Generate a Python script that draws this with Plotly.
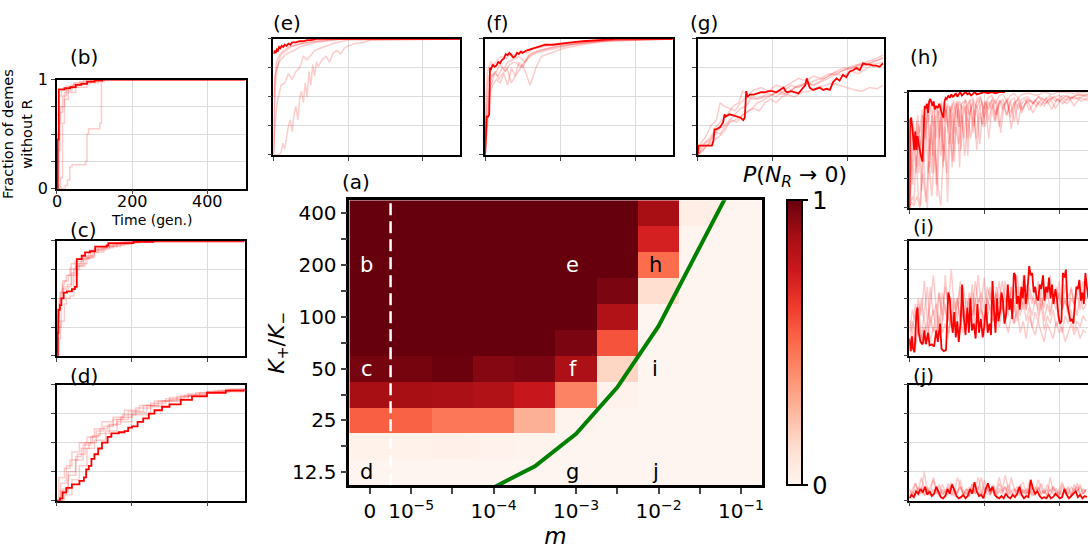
import plotly.graph_objects as go

W, H = 1090, 557

# ---------------- heatmap (a) data ----------------
M_LABELS = ["0", "10<sup>−5</sup>", "", "10<sup>−4</sup>", "", "10<sup>−3</sup>", "",
            "10<sup>−2</sup>", "", "10<sup>−1</sup>"]
K_LABELS = ["12.5", "", "25", "", "50", "", "100", "", "200", "", "400"]
# rows from K+/K- = 12.5 (bottom) to 400 (top); columns m = 0, 1e-5 ... 1e-1 (half decades)
P_EXT = [
    [0.00, 0.00, 0.00, 0.00, 0.00, 0.00, 0.00, 0.00, 0.00, 0.00],
    [0.02, 0.02, 0.03, 0.015, 0.01, 0.00, 0.00, 0.00, 0.00, 0.00],
    [0.53, 0.52, 0.46, 0.46, 0.28, 0.01, 0.00, 0.00, 0.00, 0.00],
    [0.87, 0.87, 0.86, 0.84, 0.76, 0.42, 0.015, 0.00, 0.00, 0.00],
    [0.97, 0.97, 0.99, 0.94, 0.96, 0.85, 0.16, 0.00, 0.00, 0.00],
    [1.00, 1.00, 1.00, 1.00, 1.00, 0.96, 0.56, 0.00, 0.00, 0.00],
    [1.00, 1.00, 1.00, 1.00, 1.00, 1.00, 0.84, 0.00, 0.00, 0.00],
    [1.00, 1.00, 1.00, 1.00, 1.00, 1.00, 0.96, 0.13, 0.00, 0.00],
    [1.00, 1.00, 1.00, 1.00, 1.00, 1.00, 1.00, 0.49, 0.00, 0.00],
    [1.00, 1.00, 1.00, 1.00, 1.00, 1.00, 1.00, 0.72, 0.00, 0.00],
    [1.00, 1.00, 1.00, 1.00, 1.00, 1.00, 1.00, 0.87, 0.04, 0.00],
]
# threshold curve (column index, row index)
LINE_X = [3, 4, 5, 6, 7, 8, 9]
LINE_Y = [-0.59, 0.23, 1.48, 3.28, 5.64, 8.7, 11.75]
CELL_LETTERS = [("b", 0, 8, "white"), ("c", 0, 4, "white"), ("d", 0, 0, "black"),
                ("e", 5, 8, "white"), ("f", 5, 4, "white"), ("g", 5, 0, "black"),
                ("h", 7, 8, "black"), ("i", 7, 4, "black"), ("j", 7, 0, "black")]

REDS = ["#fff5f0", "#fee0d2", "#fcbba1", "#fc9272", "#fb6a4a",
        "#ef3b2c", "#cb181d", "#a50f15", "#67000d"]

# ---------------- time-series data (time, fraction) ----------------
B_BOLD = [(0,0),(2,0.45),(5,0.91),(20,0.92),(35,0.93),(50,0.95),(65,0.96),(80,0.98),(100,0.99),(120,1.0),(500,1.0)]
B_FAINT = [
    [(0,0),(18,0),(22,0.03),(28,0.08),(34,0.2),(40,0.22),(76,0.25),(80,0.5),(84,0.55),(114,0.6),(118,0.98),(125,1.0),(500,1.0)],
    [(0,0),(5,0.6),(10,0.75),(20,0.82),(30,0.88),(50,0.93),(80,0.97),(110,1.0),(500,1.0)],
    [(0,0),(3,0.35),(8,0.7),(15,0.85),(25,0.9),(40,0.95),(60,0.98),(100,1.0),(500,1.0)],
    [(0,0),(10,0.1),(15,0.6),(20,0.88),(30,0.92),(45,0.96),(70,0.99),(120,1.0),(500,1.0)],
    [(0,0),(2,0.5),(5,0.85),(12,0.9),(25,0.94),(45,0.97),(90,1.0),(500,1.0)],
]
C_BOLD = [(0,0),(2,0.2),(4,0.4),(8,0.44),(12,0.5),(18,0.55),(27,0.56),(40,0.58),(48,0.6),(53,0.84),(66,0.87),(75,0.9),(88,0.91),(102,0.95),(133,0.96),(137,0.98),(204,0.99),(257,1.0),(500,1.0)]
C_FAINT = [
    [(0,0),(3,0.3),(6,0.45),(10,0.55),(15,0.62),(20,0.65),(30,0.7),(40,0.72),(50,0.78),(70,0.85),(90,0.92),(120,0.95),(160,0.98),(220,1.0),(500,1.0)],
    [(0,0),(5,0.15),(10,0.3),(20,0.45),(25,0.5),(35,0.52),(45,0.75),(60,0.8),(80,0.86),(100,0.92),(130,0.96),(180,0.99),(500,1.0)],
    [(0,0),(3,0.4),(8,0.55),(15,0.65),(25,0.7),(35,0.76),(50,0.8),(65,0.84),(85,0.9),(110,0.94),(150,0.97),(200,1.0),(500,1.0)],
    [(0,0),(4,0.25),(12,0.5),(18,0.6),(28,0.62),(40,0.7),(55,0.78),(75,0.85),(95,0.9),(125,0.95),(170,0.99),(500,1.0)],
    [(0,0),(2,0.35),(6,0.5),(14,0.58),(30,0.6),(38,0.8),(48,0.82),(70,0.87),(100,0.93),(140,0.97),(190,1.0),(500,1.0)],
]
D_BOLD = [(0,0),(8,0.02),(15,0.07),(25,0.11),(40,0.14),(60,0.17),(72,0.2),(78,0.27),(85,0.3),(92,0.36),(100,0.4),(110,0.45),(120,0.5),(135,0.55),(145,0.58),(165,0.59),(180,0.6),(190,0.63),(200,0.64),(215,0.68),(230,0.71),(245,0.75),(260,0.78),(280,0.81),(300,0.83),(330,0.87),(360,0.9),(400,0.93),(450,0.95),(500,0.96)]
D_FAINT = [
    [(0,0),(10,0.15),(25,0.3),(40,0.42),(60,0.5),(80,0.55),(100,0.62),(120,0.68),(150,0.72),(180,0.78),(220,0.82),(260,0.86),(300,0.89),(350,0.92),(400,0.94),(450,0.96),(500,0.97)],
    [(0,0),(15,0.1),(30,0.22),(50,0.35),(70,0.48),(90,0.55),(110,0.58),(140,0.66),(170,0.72),(200,0.76),(240,0.82),(280,0.86),(330,0.9),(380,0.93),(430,0.95),(500,0.97)],
    [(0,0),(5,0.2),(20,0.28),(35,0.35),(55,0.4),(75,0.5),(95,0.56),(115,0.62),(135,0.65),(160,0.7),(190,0.77),(230,0.82),(270,0.86),(320,0.9),(370,0.93),(420,0.95),(500,0.97)],
    [(0,0),(20,0.05),(40,0.18),(60,0.3),(80,0.45),(100,0.52),(130,0.6),(160,0.68),(200,0.74),(250,0.81),(300,0.87),(350,0.91),(400,0.94),(500,0.97)],
    [(0,0),(10,0.08),(30,0.25),(50,0.38),(65,0.45),(85,0.5),(105,0.6),(125,0.64),(150,0.7),(175,0.74),(210,0.8),(250,0.84),(290,0.88),(340,0.91),(400,0.94),(460,0.96),(500,0.97)],
]
E_BOLD = [(0,0.87),(3,0.9),(6,0.88),(9,0.91),(12,0.9),(15,0.93),(18,0.92),(22,0.94),(26,0.93),(30,0.95),(35,0.94),(40,0.96),(45,0.95),(50,0.97),(60,0.97),(70,0.98),(80,0.98),(90,0.99),(100,0.99),(115,1.0),(500,1.0)]
E_FAINT = [
    [(0,0),(15,0),(20,0.02),(25,0.1),(30,0.05),(35,0.15),(40,0.25),(45,0.3),(50,0.2),(55,0.35),(60,0.42),(65,0.3),(70,0.48),(75,0.55),(80,0.45),(85,0.62),(90,0.5),(95,0.72),(100,0.6),(105,0.78),(110,0.68),(115,0.8),(120,0.76),(130,0.82),(140,0.85),(150,0.8),(160,0.88),(170,0.9),(180,0.87),(190,0.92),(200,0.94),(220,0.96),(240,0.97),(260,0.99),(500,1.0)],
    [(0,0),(1,0.5),(3,0.65),(6,0.72),(10,0.75),(15,0.8),(20,0.82),(30,0.86),(40,0.88),(55,0.9),(70,0.93),(90,0.95),(110,0.97),(140,0.98),(180,1.0),(500,1.0)],
    [(0,0),(2,0.3),(4,0.55),(8,0.7),(12,0.78),(18,0.85),(25,0.88),(35,0.9),(45,0.93),(60,0.95),(80,0.96),(100,0.98),(130,0.99),(160,1.0),(500,1.0)],
    [(0,0.5),(3,0.6),(8,0.8),(14,0.85),(20,0.88),(28,0.9),(40,0.93),(55,0.94),(75,0.96),(95,0.97),(120,0.98),(150,0.99),(200,1.0),(500,1.0)],
    [(0,0),(5,0.3),(10,0.45),(20,0.6),(30,0.62),(40,0.7),(50,0.65),(60,0.72),(70,0.75),(80,0.85),(90,0.82),(100,0.86),(110,0.9),(125,0.92),(140,0.94),(160,0.96),(200,0.99),(500,1.0)],
]
F_BOLD = [(0,0),(2,0.3),(4,0.33),(8,0.33),(11,0.35),(13,0.75),(16,0.74),(20,0.78),(25,0.76),(30,0.77),(35,0.8),(40,0.79),(45,0.82),(50,0.83),(55,0.87),(60,0.86),(65,0.88),(70,0.86),(75,0.84),(80,0.85),(85,0.88),(90,0.87),(95,0.89),(100,0.88),(110,0.9),(120,0.91),(130,0.92),(145,0.94),(160,0.95),(180,0.95),(200,0.96),(230,0.97),(260,0.98),(300,0.99),(350,1.0),(500,1.0)]
F_FAINT = [
    [(0,0),(3,0.15),(6,0.3),(10,0.45),(15,0.55),(20,0.6),(30,0.65),(40,0.62),(50,0.7),(60,0.6),(70,0.75),(80,0.68),(90,0.8),(100,0.75),(115,0.85),(130,0.88),(150,0.9),(180,0.93),(220,0.95),(270,0.97),(330,0.99),(500,1.0)],
    [(0,0),(4,0.35),(8,0.5),(12,0.58),(18,0.62),(25,0.7),(35,0.68),(45,0.75),(55,0.72),(65,0.78),(80,0.8),(95,0.76),(110,0.82),(125,0.86),(140,0.88),(160,0.9),(190,0.92),(230,0.95),(280,0.97),(350,0.99),(500,1.0)],
    [(0,0),(5,0.2),(10,0.45),(15,0.65),(22,0.7),(30,0.72),(40,0.78),(50,0.74),(60,0.8),(75,0.82),(90,0.85),(105,0.8),(120,0.87),(140,0.9),(170,0.92),(200,0.94),(250,0.96),(300,0.98),(500,1.0)],
    [(0,0),(3,0.4),(7,0.62),(12,0.7),(20,0.68),(28,0.72),(36,0.65),(46,0.7),(58,0.75),(70,0.62),(85,0.7),(100,0.78),(120,0.6),(135,0.75),(150,0.85),(175,0.88),(210,0.92),(260,0.95),(320,0.98),(500,1.0)],
    [(0,0),(2,0.5),(6,0.7),(10,0.76),(16,0.8),(24,0.78),(34,0.82),(44,0.85),(56,0.83),(68,0.87),(82,0.86),(96,0.9),(112,0.88),(130,0.92),(150,0.93),(180,0.95),(220,0.96),(270,0.98),(330,0.99),(500,1.0)],
]
G_BOLD = [(0,0),(2,0.08),(5,0.08),(20,0.08),(38,0.08),(42,0.12),(45,0.22),(50,0.22),(60,0.24),(68,0.28),(72,0.35),(75,0.33),(85,0.35),(95,0.34),(105,0.33),(115,0.32),(122,0.3),(126,0.32),(130,0.55),(133,0.5),(140,0.52),(150,0.52),(160,0.53),(170,0.54),(180,0.54),(190,0.55),(200,0.55),(210,0.54),(220,0.56),(230,0.58),(235,0.55),(240,0.54),(250,0.55),(260,0.54),(270,0.53),(280,0.57),(288,0.6),(292,0.66),(300,0.58),(309,0.56),(320,0.57),(327,0.58),(336,0.56),(345,0.57),(354,0.56),(363,0.63),(372,0.66),(380,0.64),(389,0.69),(398,0.67),(407,0.72),(416,0.73),(425,0.75),(434,0.73),(443,0.79),(452,0.78),(460,0.78),(469,0.77),(478,0.77),(487,0.76),(496,0.79)]
G_FAINT = [
    [(0,0),(10,0.05),(20,0.1),(30,0.12),(40,0.15),(55,0.22),(70,0.25),(85,0.3),(100,0.35),(115,0.4),(130,0.42),(145,0.5),(160,0.48),(180,0.5),(200,0.52),(220,0.55),(240,0.52),(260,0.58),(280,0.6),(300,0.62),(320,0.65),(340,0.66),(360,0.7),(380,0.72),(400,0.74),(420,0.76),(440,0.78),(460,0.8),(480,0.82),(496,0.83)],
    [(0,0),(15,0.05),(30,0.1),(45,0.2),(60,0.18),(75,0.25),(90,0.3),(105,0.28),(120,0.35),(135,0.38),(150,0.4),(165,0.38),(180,0.45),(195,0.48),(210,0.45),(225,0.5),(240,0.52),(260,0.5),(280,0.54),(300,0.55),(320,0.58),(340,0.6),(360,0.62),(380,0.6),(400,0.58),(420,0.56),(440,0.55),(460,0.58),(480,0.57),(496,0.6)],
    [(0,0),(8,0.1),(20,0.15),(35,0.25),(50,0.3),(60,0.45),(70,0.42),(85,0.4),(100,0.38),(115,0.45),(130,0.5),(150,0.48),(170,0.5),(190,0.53),(210,0.5),(230,0.55),(250,0.6),(270,0.58),(290,0.62),(310,0.6),(330,0.64),(350,0.68),(370,0.72),(390,0.75),(410,0.74),(430,0.78),(450,0.8),(470,0.82),(496,0.86)],
    [(0,0),(12,0.03),(25,0.08),(40,0.12),(55,0.15),(70,0.2),(85,0.28),(100,0.3),(115,0.33),(130,0.36),(145,0.4),(160,0.45),(175,0.47),(190,0.5),(210,0.54),(230,0.52),(250,0.56),(270,0.6),(290,0.62),(310,0.6),(330,0.63),(350,0.66),(370,0.7),(390,0.68),(410,0.72),(430,0.7),(450,0.74),(470,0.78),(496,0.8)],
    [(0,0.02),(10,0.08),(25,0.12),(40,0.18),(50,0.25),(65,0.3),(80,0.35),(95,0.42),(110,0.45),(120,0.55),(135,0.52),(150,0.56),(170,0.58),(190,0.55),(210,0.6),(230,0.58),(250,0.62),(270,0.66),(290,0.64),(310,0.68),(330,0.66),(350,0.7),(370,0.69),(390,0.73),(410,0.76),(430,0.78),(450,0.77),(470,0.8),(496,0.84)],
]
H_BOLD = [(0,0),(2,0.76),(5,0.78),(8,0.7),(10,0.62),(13,0.5),(16,0.66),(19,0.5),(22,0.62),(25,0.55),(28,0.48),(31,0.45),(35,0.4),(38,0.65),(41,0.88),(44,0.86),(47,0.9),(50,0.82),(53,0.92),(56,0.94),(59,0.9),(62,0.88),(65,0.92),(68,0.85),(72,0.88),(76,0.86),(80,0.9),(84,0.84),(88,0.8),(91,0.78),(94,0.92),(97,0.95),(100,0.94),(104,0.97),(108,0.95),(112,0.98),(116,0.96),(120,0.97),(124,0.99),(128,0.96),(132,0.98),(136,1.0),(140,0.97),(145,0.99),(150,1.0),(155,0.98),(160,0.99),(165,0.97),(170,0.99),(175,1.0),(180,0.98),(190,0.99),(200,1.0),(210,0.99),(220,1.0),(230,0.99),(240,1.0),(255,1.0)]
H_FAINT = [
    [(0,0),(5,0.3),(10,0.7),(15,0.5),(20,0.75),(25,0.3),(30,0.6),(35,0.8),(40,0.4),(45,0.7),(50,0.85),(55,0.5),(60,0.8),(65,0.3),(70,0.7),(75,0.85),(80,0.6),(85,0.9),(90,0.5),(95,0.8),(100,0.88),(105,0.55),(110,0.85),(115,0.9),(120,0.65),(125,0.88),(130,0.92),(135,0.7),(140,0.9),(150,0.93),(155,0.75),(160,0.92),(170,0.95),(175,0.8),(180,0.94),(190,0.96),(200,0.85),(210,0.95),(220,0.97),(230,0.9),(240,0.97),(250,0.98),(260,0.92),(270,0.97),(280,0.99),(290,0.95),(300,0.98),(320,0.99),(340,0.97),(360,1),(380,0.98),(400,1),(440,0.99),(477,1)],
    [(0,0),(8,0.1),(12,0.05),(18,0.45),(24,0.1),(30,0.02),(36,0.55),(42,0.2),(48,0.0),(54,0.6),(60,0.3),(66,0.75),(72,0.2),(78,0.65),(84,0.8),(90,0.35),(96,0.7),(102,0.05),(108,0.6),(114,0.82),(120,0.4),(126,0.75),(132,0.85),(138,0.5),(144,0.8),(150,0.88),(156,0.45),(162,0.82),(170,0.9),(178,0.6),(186,0.85),(194,0.92),(202,0.7),(210,0.88),(220,0.93),(230,0.75),(240,0.9),(250,0.94),(260,0.8),(270,0.93),(280,0.95),(290,0.85),(300,0.94),(315,0.96),(330,0.9),(345,0.96),(360,0.93),(375,0.97),(390,0.92),(410,0.97),(430,0.95),(450,0.98),(477,0.96)],
    [(0,0),(4,0.5),(9,0.2),(14,0.6),(20,0.35),(26,0.7),(32,0.15),(38,0.55),(44,0.78),(50,0.3),(56,0.72),(62,0.45),(68,0.8),(74,0.1),(80,0.6),(86,0.78),(92,0.4),(98,0.85),(104,0.65),(110,0.88),(116,0.55),(122,0.82),(128,0.9),(134,0.35),(140,0.8),(148,0.88),(156,0.6),(164,0.9),(172,0.7),(180,0.88),(188,0.55),(196,0.85),(204,0.92),(212,0.75),(220,0.9),(230,0.8),(240,0.93),(250,0.85),(260,0.92),(270,0.78),(280,0.9),(290,0.94),(300,0.82),(310,0.9),(325,0.93),(340,0.88),(355,0.95),(370,0.9),(385,0.96),(400,0.92),(420,0.97),(440,0.94),(460,0.96),(477,0.98)],
    [(0,0),(6,0.25),(12,0.65),(18,0.3),(24,0.72),(30,0.45),(36,0.8),(42,0.6),(48,0.85),(54,0.35),(60,0.78),(66,0.88),(72,0.6),(78,0.85),(84,0.45),(90,0.8),(96,0.9),(102,0.7),(108,0.88),(114,0.35),(120,0.85),(126,0.92),(132,0.7),(138,0.9),(146,0.6),(154,0.88),(162,0.93),(170,0.65),(178,0.9),(186,0.94),(194,0.72),(202,0.92),(212,0.85),(222,0.95),(232,0.8),(242,0.93),(252,0.88),(262,0.95),(272,0.68),(282,0.9),(292,0.95),(302,0.85),(315,0.94),(330,0.9),(345,0.96),(360,0.9),(380,0.95),(400,0.97),(420,0.93),(445,0.97),(477,0.98)],
    [(0,0),(5,0.6),(10,0.75),(16,0.55),(22,0.8),(28,0.65),(34,0.85),(40,0.7),(46,0.88),(52,0.75),(58,0.9),(64,0.7),(70,0.88),(78,0.8),(86,0.92),(94,0.75),(102,0.9),(110,0.82),(118,0.93),(126,0.78),(134,0.92),(142,0.85),(150,0.94),(160,0.8),(170,0.93),(180,0.86),(190,0.95),(200,0.78),(210,0.92),(220,0.85),(230,0.94),(240,0.7),(250,0.88),(260,0.93),(270,0.82),(280,0.92),(290,0.72),(300,0.9),(310,0.94),(320,0.84),(335,0.93),(350,0.88),(365,0.95),(380,0.85),(395,0.94),(410,0.9),(425,0.96),(440,0.88),(455,0.95),(477,0.93)],
    [(0,0),(6,0.05),(12,0.02),(20,0.1),(28,0.0),(36,0.3),(44,0.05),(52,0.4),(60,0.1),(68,0.5),(76,0.2),(84,0.02),(92,0.55),(100,0.3),(108,0.65),(116,0.4),(124,0.7),(132,0.55),(140,0.8),(148,0.45),(156,0.78),(164,0.6),(172,0.85),(180,0.5),(188,0.82),(196,0.7),(204,0.88),(212,0.6),(220,0.85),(228,0.75),(236,0.9),(244,0.65),(252,0.88),(260,0.8),(270,0.92),(280,0.75),(290,0.9),(300,0.85),(315,0.93),(330,0.82),(345,0.92),(360,0.88),(375,0.95),(390,0.86),(405,0.94),(420,0.9),(440,0.96),(460,0.92),(477,0.95)],
]
I_BOLD = [(0,0.15),(4,0.04),(7,0.17),(10,0.06),(14,0.03),(19,0.38),(22,0.42),(25,0.2),(30,0.12),(36,0.1),(40,0.22),(44,0.1),(50,0.2),(54,0.09),(60,0.1),(66,0.08),(72,0.22),(76,0.12),(82,0.28),(86,0.06),(92,0.04),(98,0.05),(104,0.55),(108,0.5),(112,0.3),(116,0.2),(120,0.38),(124,0.16),(128,0.3),(132,0.12),(137,0.3),(141,0.62),(145,0.35),(150,0.18),(155,0.42),(159,0.2),(163,0.5),(167,0.22),(172,0.28),(177,0.15),(182,0.45),(186,0.2),(191,0.32),(196,0.16),(200,0.25),(205,0.45),(209,0.2),(214,0.28),(218,0.18),(222,0.65),(226,0.4),(230,0.2),(234,0.5),(238,0.3),(242,0.38),(246,0.55),(250,0.48),(254,0.28),(258,0.35),(263,0.62),(267,0.4),(271,0.5),(275,0.32),(279,0.72),(283,0.7),(287,0.45),(291,0.52),(295,0.4),(299,0.6),(303,0.5),(307,0.7),(311,0.45),(315,0.55),(320,0.78),(324,0.7),(328,0.72),(332,0.55),(336,0.6),(340,0.5),(344,0.48),(348,0.62),(352,0.58),(357,0.7),(361,0.48),(365,0.6),(369,0.55),(373,0.68),(377,0.5),(381,0.62),(385,0.45),(390,0.58),(394,0.5),(398,0.35),(402,0.28),(406,0.3),(410,0.72),(414,0.68),(418,0.75),(422,0.45),(426,0.35),(430,0.3),(434,0.32),(438,0.28),(442,0.45),(446,0.6),(450,0.58),(454,0.66),(458,0.48),(462,0.55),(466,0.45),(470,0.72),(474,0.6),(478,0.5)]
I_STEP = 8
I_FAINT = [
    [0.1,0.3,0.2,0.45,0.15,0.35,0.6,0.25,0.4,0.2,0.55,0.3,0.7,0.35,0.25,0.5,0.3,0.65,0.4,0.3,0.55,0.35,0.45,0.7,0.4,0.3,0.5,0.6,0.35,0.45,0.65,0.4,0.5,0.35,0.6,0.45,0.3,0.55,0.4,0.62,0.45,0.35,0.5,0.4,0.6,0.3,0.45,0.35,0.5,0.4,0.55,0.42,0.48,0.38,0.5,0.45,0.35,0.52,0.4,0.45],
    [0.05,0.2,0.1,0.3,0.15,0.25,0.1,0.35,0.2,0.4,0.15,0.3,0.45,0.2,0.35,0.25,0.5,0.3,0.2,0.4,0.3,0.55,0.25,0.35,0.45,0.3,0.5,0.4,0.3,0.55,0.35,0.45,0.3,0.5,0.4,0.28,0.45,0.35,0.5,0.3,0.42,0.25,0.38,0.3,0.45,0.22,0.35,0.28,0.4,0.25,0.32,0.2,0.35,0.28,0.4,0.22,0.3,0.25,0.35,0.3],
    [0.2,0.4,0.3,0.5,0.35,0.65,0.3,0.45,0.7,0.4,0.55,0.35,0.6,0.45,0.75,0.4,0.5,0.3,0.6,0.4,0.5,0.35,0.65,0.45,0.55,0.4,0.6,0.5,0.4,0.55,0.45,0.65,0.5,0.4,0.6,0.5,0.7,0.45,0.55,0.4,0.6,0.5,0.45,0.65,0.4,0.55,0.5,0.7,0.45,0.6,0.5,0.4,0.62,0.5,0.58,0.45,0.6,0.52,0.65,0.5],
    [0.1,0.15,0.05,0.25,0.1,0.2,0.3,0.12,0.25,0.18,0.35,0.2,0.28,0.15,0.4,0.25,0.3,0.2,0.45,0.3,0.35,0.25,0.5,0.3,0.4,0.22,0.35,0.45,0.3,0.38,0.25,0.42,0.3,0.2,0.35,0.28,0.4,0.2,0.3,0.15,0.35,0.25,0.18,0.3,0.2,0.12,0.28,0.22,0.15,0.3,0.2,0.25,0.12,0.2,0.28,0.18,0.25,0.15,0.22,0.2],
    [0.3,0.2,0.45,0.25,0.5,0.3,0.2,0.6,0.35,0.45,0.25,0.55,0.4,0.3,0.5,0.35,0.45,0.6,0.3,0.5,0.4,0.62,0.35,0.5,0.45,0.68,0.4,0.55,0.35,0.6,0.5,0.4,0.65,0.45,0.55,0.38,0.6,0.48,0.7,0.4,0.55,0.45,0.6,0.35,0.5,0.42,0.58,0.38,0.52,0.45,0.65,0.4,0.5,0.35,0.6,0.45,0.55,0.4,0.58,0.48],
]
J_STEP_BOLD = 6
J_BOLD = [0.02,0.05,0.03,0.08,0.06,0.1,0.07,0.12,0.05,0.08,0.04,0.06,0.12,0.08,0.03,0.02,0.04,0.1,0.06,0.14,0.08,0.04,0.02,0.03,0.05,0.02,0.04,0.1,0.06,0.16,0.08,0.04,0.05,0.02,0.1,0.15,0.08,0.12,0.05,0.03,0.02,0.04,0.02,0.06,0.03,0.02,0.05,0.03,0.06,0.12,0.05,0.02,0.04,0.03,0.18,0.1,0.06,0.08,0.04,0.02,0.03,0.02,0.05,0.02,0.03,0.06,0.04,0.02,0.03,0.1,0.05,0.02,0.04,0.06,0.08,0.03,0.05,0.02,0.04,0.03]
J_STEP = 8
J_FAINT = [
    [0.05,0.1,0.15,0.08,0.2,0.1,0.05,0.12,0.18,0.08,0.04,0.1,0.06,0.15,0.1,0.05,0.2,0.12,0.06,0.1,0.04,0.15,0.08,0.12,0.05,0.18,0.1,0.06,0.12,0.08,0.2,0.1,0.05,0.14,0.08,0.1,0.04,0.12,0.16,0.06,0.1,0.05,0.12,0.08,0.15,0.06,0.1,0.04,0.12,0.08,0.05,0.14,0.1,0.06,0.12,0.08,0.15,0.06,0.1,0.08],
    [0.02,0.08,0.04,0.12,0.06,0.25,0.08,0.04,0.1,0.06,0.14,0.05,0.08,0.12,0.04,0.1,0.06,0.18,0.08,0.05,0.12,0.06,0.1,0.2,0.08,0.04,0.1,0.06,0.14,0.05,0.1,0.08,0.22,0.1,0.05,0.08,0.12,0.04,0.1,0.06,0.16,0.08,0.04,0.12,0.06,0.1,0.05,0.2,0.08,0.1,0.04,0.12,0.06,0.1,0.05,0.14,0.08,0.12,0.06,0.1],
    [0.1,0.05,0.15,0.08,0.12,0.04,0.1,0.06,0.2,0.1,0.06,0.14,0.08,0.05,0.16,0.1,0.06,0.12,0.05,0.1,0.08,0.14,0.06,0.1,0.2,0.08,0.12,0.05,0.1,0.06,0.15,0.08,0.12,0.06,0.2,0.1,0.08,0.14,0.06,0.1,0.05,0.12,0.08,0.18,0.1,0.06,0.14,0.08,0.12,0.05,0.1,0.16,0.08,0.12,0.06,0.1,0.08,0.14,0.06,0.1],
    [0.03,0.06,0.1,0.04,0.08,0.05,0.12,0.06,0.04,0.1,0.05,0.08,0.03,0.1,0.06,0.04,0.08,0.12,0.05,0.07,0.04,0.1,0.06,0.08,0.04,0.12,0.06,0.05,0.1,0.04,0.08,0.06,0.12,0.05,0.08,0.04,0.1,0.06,0.08,0.05,0.1,0.04,0.06,0.12,0.05,0.08,0.04,0.1,0.06,0.05,0.08,0.04,0.1,0.06,0.05,0.08,0.12,0.05,0.06,0.08],
]

T_TICKS = [0, 200, 400]
F_TICKS = [0, 0.25, 0.5, 0.75, 1]

FONT = "DejaVu Sans"
BOLD_COLOR = "#ff0000"
FAINT_COLOR = "rgba(255,0,0,0.2)"


def pairs(p):
    return [a for a, _ in p], [b for _, b in p]


def uniform(vals, step):
    return [i * step for i in range(len(vals))], vals


def dom(l, t, r, b):
    return [l / W, min(r / W, 1.0)], [1 - b / H, 1 - t / H]


fig = go.Figure()

# ---------------- heatmap ----------------
fig.add_trace(go.Heatmap(
    z=P_EXT, x=list(range(10)), y=list(range(11)),
    zmin=0, zmax=1,
    colorscale=[[i / 8, c] for i, c in enumerate(REDS)],
    xaxis="x", yaxis="y", hoverinfo="skip",
    colorbar=dict(
        x=788 / W, xanchor="left", y=1 - 493 / H, yanchor="bottom",
        len=295 / H, lenmode="fraction", thickness=15,
        outlinewidth=2, outlinecolor="black",
        tickvals=[0, 1], ticktext=["0", "1"], ticks="outside", ticklen=5,
        tickwidth=2, tickcolor="black",
        tickfont=dict(size=24, family=FONT, color="black"),
        xpad=0, ypad=0,
    ),
))
fig.add_trace(go.Scatter(x=LINE_X, y=LINE_Y, mode="lines",
                         line=dict(color="#008000", width=4),
                         xaxis="x", yaxis="y", showlegend=False, hoverinfo="skip"))

hx, hy = dom(350, 198, 763, 493)
layout = dict(
    width=W, height=H, autosize=False,
    margin=dict(l=0, r=0, t=0, b=0),
    paper_bgcolor="white", plot_bgcolor="white",
    showlegend=False,
    font=dict(family=FONT, color="black"),
    xaxis=dict(domain=hx, anchor="y", range=[-0.5, 9.5],
               tickvals=list(range(10)), ticktext=M_LABELS,
               tickfont=dict(size=20), ticks="outside", ticklen=6, tickwidth=2,
               showline=True, mirror=True, linecolor="black", linewidth=2.5,
               showgrid=False, zeroline=False,
               title=dict(text="<i>m</i>", font=dict(size=23), standoff=2)),
    yaxis=dict(domain=hy, anchor="x", range=[-0.5, 10.5],
               tickvals=list(range(11)), ticktext=K_LABELS,
               tickfont=dict(size=20), ticks="outside", ticklen=6, tickwidth=2,
               showline=True, mirror=True, linecolor="black", linewidth=2.5,
               showgrid=False, zeroline=False,
               title=dict(text="<i>K</i><sub>+</sub>/<i>K</i><sub>−</sub>",
                          font=dict(size=22), standoff=2)),
)

annotations = []
for letter, cx, cy, col in CELL_LETTERS:
    annotations.append(dict(x=cx - 0.08, y=cy, xref="x", yref="y", text=letter,
                            showarrow=False, font=dict(size=21, color=col),
                            xanchor="center", yanchor="middle"))

shapes = [dict(type="line", xref="x", yref="y", x0=0.5, x1=0.5, y0=-0.5, y1=10.5,
               line=dict(color="white", width=2.5, dash="12px,6px"), layer="above")]

# ---------------- small panels ----------------
PANELS = [
    ("b", (57, 73, 246, 186), B_BOLD, B_FAINT, "hv", "pairs", 500, True),
    ("c", (57, 240, 245, 359), C_BOLD, C_FAINT, "hv", "pairs", 500, True),
    ("d", (57, 389, 245, 509), D_BOLD, D_FAINT, "hv", "pairs", 500, True),
    ("e", (274, 31, 461, 151), E_BOLD, E_FAINT, "linear", "pairs", 500, True),
    ("f", (486, 31, 674, 151), F_BOLD, F_FAINT, "linear", "pairs", 500, True),
    ("g", (699, 31, 886, 151), G_BOLD, G_FAINT, "linear", "pairs", 500, True),
    ("h", (911, 86, 1090, 206), H_BOLD, H_FAINT, "linear", "pairs", 477, False),
    ("i", (911, 240, 1090, 359), I_BOLD, I_FAINT, "linear", "iu", 477, False),
    ("j", (911, 389, 1090, 509), J_BOLD, J_FAINT, "linear", "ju", 477, False),
]

for n, (name, box, bold, faint, shape, kind, xmax, closed) in enumerate(PANELS, start=2):
    xa, ya = f"x{n}", f"y{n}"
    for fl in faint:
        if kind == "pairs":
            fx, fy = pairs(fl)
        elif kind == "iu":
            fx, fy = uniform(fl, I_STEP)
        else:
            fx, fy = uniform(fl, J_STEP)
        fig.add_trace(go.Scatter(x=fx, y=fy, mode="lines",
                                 line=dict(color=FAINT_COLOR, width=1.5, shape=shape),
                                 xaxis=xa, yaxis=ya, showlegend=False, hoverinfo="skip"))
    if kind == "ju":
        bx, by = uniform(bold, J_STEP_BOLD)
    else:
        bx, by = pairs(bold)
    fig.add_trace(go.Scatter(x=bx, y=by, mode="lines",
                             line=dict(color=BOLD_COLOR, width=1.8, shape=shape),
                             xaxis=xa, yaxis=ya, showlegend=False, hoverinfo="skip"))

    dx, dy = dom(*box)
    labelled = name == "b"
    xax = dict(domain=dx, anchor=ya, range=[0, xmax], tickvals=T_TICKS,
               showticklabels=False, ticks="outside", ticklen=4, tickwidth=1.3,
               showline=True, mirror=True, linecolor="black", linewidth=1.6,
               showgrid=True, gridcolor="#dcdcdc", gridwidth=1, zeroline=False)
    yax = dict(domain=dy, anchor=xa, range=[0, 1], tickvals=F_TICKS,
               ticktext=["0", "", "", "", "1"], showticklabels=labelled,
               tickfont=dict(size=16), ticks="outside", ticklen=4, tickwidth=1.3,
               showline=True, mirror=closed, linecolor="black", linewidth=1.6,
               showgrid=True, gridcolor="#dcdcdc", gridwidth=1, zeroline=False)
    if labelled:
        yax["title"] = dict(text="Fraction of demes<br>without R", font=dict(size=14.5), standoff=3)
        # time tick labels and title of panel (b)
        for t in T_TICKS:
            annotations.append(dict(x=t, y=1 - 199 / H, xref=xa, yref="paper", text=str(t),
                                    showarrow=False, font=dict(size=16, color="black"),
                                    xanchor="center", yanchor="middle"))
        annotations.append(dict(x=(box[0] + box[2]) / 2 / W, y=1 - 218 / H, xref="paper",
                                yref="paper", text="Time (gen.)", showarrow=False,
                                font=dict(size=14, color="black"),
                                xanchor="center", yanchor="middle"))
    layout[f"xaxis{n}"] = xax
    layout[f"yaxis{n}"] = yax

# panel labels
PANEL_LABELS = [("(a)", 357, 179), ("(b)", 84, 50), ("(c)", 84, 229), ("(d)", 84, 380),
                ("(e)", 288, 15), ("(f)", 498, 15), ("(g)", 705, 15), ("(h)", 926, 50),
                ("(i)", 925, 226), ("(j)", 925, 380)]
for txt, px, py in PANEL_LABELS:
    annotations.append(dict(x=px / W, y=1 - py / H, xref="paper", yref="paper", text=txt,
                            showarrow=False, font=dict(size=20, color="black"),
                            xanchor="center", yanchor="middle"))
annotations.append(dict(x=796 / W, y=1 - 173 / H, xref="paper", yref="paper",
                        text="<i>P</i>(<i>N</i><sub><i>R</i></sub> → 0)",
                        showarrow=False, font=dict(size=22, color="black"),
                        xanchor="center", yanchor="middle"))

layout["annotations"] = annotations
layout["shapes"] = shapes
fig.update_layout(**layout)
fig.write_html("out.html", config={"displayModeBar": False},
               post_script="document.body.style.margin='0';document.body.style.overflow='hidden';")
